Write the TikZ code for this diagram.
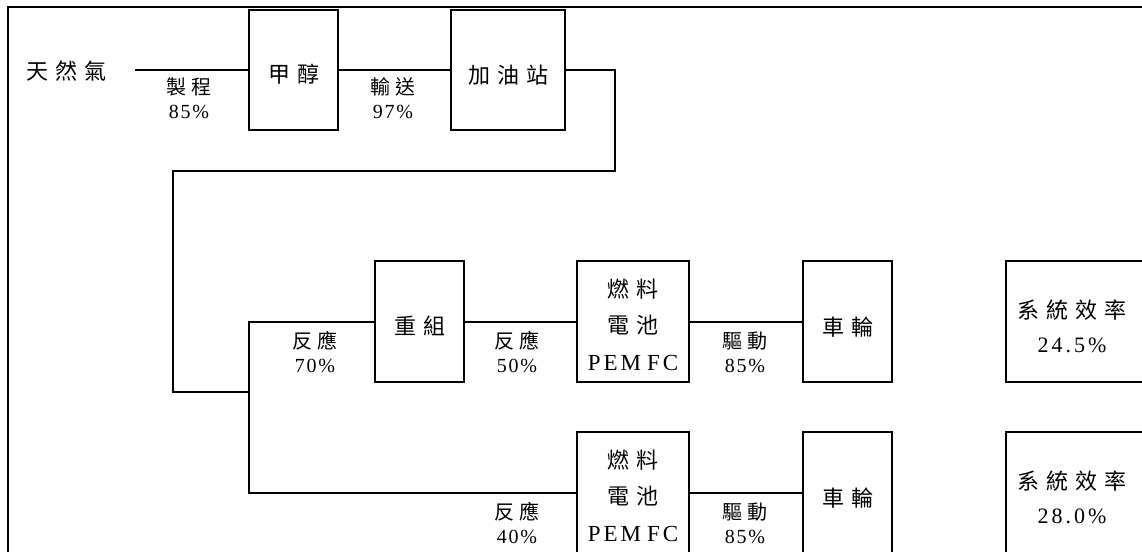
\documentclass[tikz,border=0pt]{standalone}
\usepackage{fontspec}
\setmainfont{Liberation Serif}
\newfontfamily\tnr{Liberation Serif}
\newfontfamily\cjk{Noto Sans CJK TC}
\newcommand\KA{\kern7pt}
\newcommand\KB{\kern4.5pt}
\newcommand\KC{\kern1.8pt}
\newcommand\KD{\kern3pt}
\newcommand\bigcjk{\cjk\fontsize{22}{36.5}\selectfont}
\newcommand\smcjk{\cjk\fontsize{20}{24}\selectfont}
\newcommand\pemfc{{\tnr\fontsize{23}{36.5}\selectfont P\KD E\KD M\kern6pt F\KD C}}
\begin{document}
\begin{tikzpicture}[x=1pt,y=-1pt,
  box/.style={draw, line width=2pt, inner sep=0pt, minimum height=121pt, align=center, font=\bigcjk},
  conn/.style={line width=2pt},
  lab/.style={align=center, inner sep=0pt, font=\tnr\fontsize{20}{24}\selectfont},
  efft/.style={align=center, inner sep=0pt, font=\tnr\fontsize{22}{34}\selectfont},
  frame/.style={line width=1.6pt}]
\useasboundingbox (0,0) rectangle (1142,551);
\clip (0,0) rectangle (1142,551);
% outer frame
\draw[frame] (8,7) rectangle (1170,580);
% top row
\node[inner sep=0pt, font=\bigcjk] (ng) at (67,71) {天\KA 然\KA 氣};
\coordinate (ngend) at (135,70);
\node[box, minimum width=89pt, minimum height=120pt] (meth) at (293.5,70) {\rule{0pt}{27pt}甲\KA 醇};
\node[box, minimum width=114pt, minimum height=120pt] (stat) at (508,70) {\rule{0pt}{28pt}加\KA 油\KA 站};
\node[lab] (l1) at (189,98) {{\smcjk 製\KB 程}\\8\KC 5\KC\%};
\node[lab] (l2) at (393,98) {{\smcjk 輸\KB 送}\\9\KC 7\KC\%};
\draw[conn] (ngend) -- (meth.west);
\draw[conn] (meth.east) -- (stat.west);
% route down
\coordinate (r2) at (615,171);
\coordinate (r4) at (173,392);
\coordinate (j) at (249,392);
\draw[conn] (stat.east) -| (r2) -| (r4) -- (j);
% row 1
\node[box, minimum width=89pt] (ref) at (419.5,321.5) {\rule{0pt}{27pt}重\KA 組};
\node[box, minimum width=112pt] (fc1) at (633,321.5) {\rule{0pt}{25pt}燃\KA 料\\電\KA 池\\\pemfc};
\node[box, minimum width=89pt] (wh1) at (847.5,321.5) {\rule{0pt}{29pt}車\KA 輪};
\node[box, minimum width=160pt, anchor=west] (eff1) at (1005,321.5) {};
\node[efft] (e1t) at (1072,326) {{\cjk\fontsize{22}{34}\selectfont 系\KA 統\KA 效\KA 率}\\2\KD 4\KD.\KD 5\KD\%};
% row 2
\node[box, minimum width=112pt] (fc2) at (633,492.5) {\rule{0pt}{25pt}燃\KA 料\\電\KA 池\\\pemfc};
\node[box, minimum width=89pt] (wh2) at (847.5,492.5) {\rule{0pt}{30pt}車\KA 輪};
\node[box, minimum width=160pt, anchor=west] (eff2) at (1005,492.5) {};
\node[efft] (e2t) at (1072,497) {{\cjk\fontsize{22}{34}\selectfont 系\KA 統\KA 效\KA 率}\\2\KD 8\KD.\KD 0\KD\%};
% labels
\node[lab] (l3) at (315,352) {{\smcjk 反\KB 應}\\7\KC 0\KC\%};
\node[lab] (l4) at (517,352) {{\smcjk 反\KB 應}\\5\KC 0\KC\%};
\node[lab] (l5) at (745,352) {{\smcjk 驅\KB 動}\\8\KC 5\KC\%};
\node[lab] (l6) at (517,523) {{\smcjk 反\KB 應}\\4\KC 0\KC\%};
\node[lab] (l7) at (745,523) {{\smcjk 驅\KB 動}\\8\KC 5\KC\%};
% connectors
\draw[conn] (j) |- (ref.west);
\draw[conn] (j) |- (fc2.west);
\draw[conn] (ref.east) -- (fc1.west);
\draw[conn] (fc1.east) -- (wh1.west);
\draw[conn] (fc2.east) -- (wh2.west);
\end{tikzpicture}
\end{document}
